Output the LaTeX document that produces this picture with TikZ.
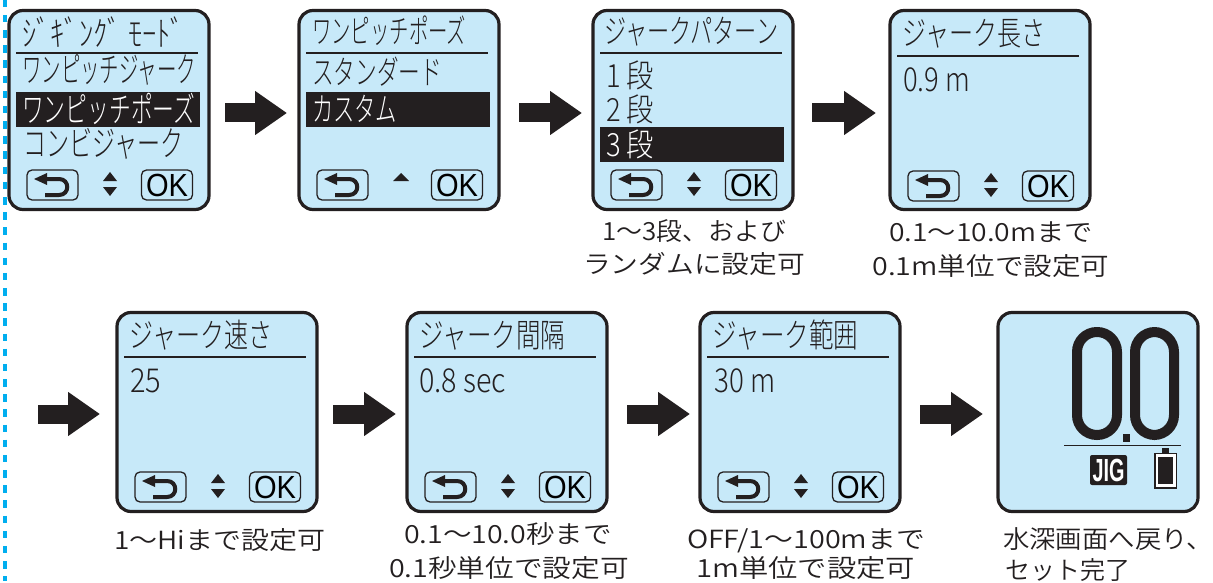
\documentclass[tikz,border=0pt]{standalone}
\usepackage{fontspec}
\usepackage{graphicx}
\usetikzlibrary{arrows.meta}
\setmainfont{Noto Sans CJK JP Light}
\newfontfamily\capf{Noto Sans CJK JP DemiLight}
\newfontfamily\latinf{Liberation Sans}
\definecolor{ink}{HTML}{231F20}
\definecolor{lcd}{HTML}{C7E9F9}
\definecolor{dashc}{HTML}{00AEEF}
\newsavebox\fitbox
\newcommand\fit[3]{\sbox\fitbox{\fontsize{#2}{#2}\selectfont #3}\pgfmathsetmacro\fitratio{#1/\the\wd\fitbox}\scalebox{\fitratio}[1]{\usebox\fitbox}}
\tikzset{
  x=1pt,y=-1pt,
  panelbox/.style={draw=ink,line width=3.2pt,fill=lcd,rounded corners=14pt,minimum width=200pt,minimum height=199pt,inner sep=0pt},
  txt/.style={anchor=base west,inner sep=0pt,text=ink},
  captxt/.style={anchor=base,inner sep=0pt,text=ink,font=\capf},
  btn/.style={draw=ink,line width=1.3pt,rounded corners=5pt,minimum width=51pt,minimum height=30pt,inner sep=0pt},
  rulel/.style={draw=ink,line width=1.4pt},
  flow/.style={draw=ink,fill=ink,line width=19pt,-{Triangle[length=32pt,width=42pt]}},
  hl/.style={fill=ink,draw=none,minimum width=184pt,minimum height=35pt,inner sep=0pt}
}
% #1 name, #2 x, #3 y, #4 rule y, #5 btn offset, #6 nav both
\newcommand\panelframe[6]{%
  \node[panelbox] (#1) at (#2+102,#3+101) {};
  \begin{scope}[shift={(#2,#3)}]
    \draw[rulel] (9,#4) -- (191,#4);
    \node[btn] (#1b) at (45.5,175+#5) {};
    \node[btn] (#1o) at (160,175+#5) {\latinf\fit{42}{32}{OK}};
    \begin{scope}[shift={(0,#5)}]
      \fill[ink] (27,169) -- (40,163) -- (40,175) -- cycle;
      \draw[ink,line width=4pt] (39,169) -- (52,169) .. controls (63,169) and (63,185) .. (52,185) -- (38,185);
      \ifnum#6=1
        \fill[ink] (96,171) -- (103,162) -- (110,171) -- cycle;
        \fill[ink] (96,177) -- (103,186) -- (110,177) -- cycle;
      \else
        \fill[ink] (96,171) -- (104,163) -- (112,171) -- cycle;
      \fi
    \end{scope}
  \end{scope}}
\begin{document}
\begin{tikzpicture}
\useasboundingbox (0,0) rectangle (1213,583);
\draw[dashc,line width=4pt,dash pattern=on 7.5pt off 7.67pt] (4.5,-0.2) -- (4.5,581);

\panelframe{pa}{7}{9}{44}{1}{1}
\panelframe{pb}{297}{9}{44}{1}{0}
\panelframe{pc}{591}{9}{44}{1}{1}
\panelframe{pd}{888}{9}{47}{2}{1}
\panelframe{pe}{115}{311}{46}{1}{1}
\panelframe{pf}{405}{311}{46}{1}{1}
\panelframe{pg}{698}{311}{46}{1}{1}

% panel 1
\node[hl] (pah) at (108,109.5) {};
\node[txt] (pa1) at (22,47) {\fit{163}{35}{ｼﾞｷﾞﾝｸﾞ ﾓｰﾄﾞ}};
\node[txt] (pa2) at (22,83) {\fit{174}{35}{ワンピッチジャーク}};
\node[txt,text=white] (pa3) at (22,123) {\fit{173}{35}{ワンピッチポーズ}};
\node[txt] (pa4) at (23,157) {\fit{160}{35}{コンビジャーク}};
% panel 2
\node[hl] (pbh) at (398,109.5) {};
\node[txt] (pb1) at (312,44) {\fit{154}{33}{ワンピッチポーズ}};
\node[txt] (pb2) at (312,85) {\fit{130}{33}{スタンダード}};
\node[txt,text=white] (pb3) at (312,122) {\fit{85}{33}{カスタム}};
% panel 3
\node[hl] (pch) at (692,144.5) {};
\node[txt] (pc1) at (604,44) {\fit{174}{33}{ジャークパターン}};
\node[txt] (pc2) at (606,88) {\fit{48}{32}{1 段}};
\node[txt] (pc3) at (606,122) {\fit{48}{32}{2 段}};
\node[txt,text=white] (pc4) at (606,157) {\fit{48}{32}{3 段}};
% panel 4
\node[txt] (pd1) at (902,46) {\fit{143}{33}{ジャーク長さ}};
\node[txt] (pd2) at (903,92) {\fit{67}{33}{0.9 m}};
% panel 5-7
\node[txt] (pe1) at (129,347) {\fit{143}{33}{ジャーク速さ}};
\node[txt] (pe2) at (130,392) {\fit{31}{33}{25}};
\node[txt] (pf1) at (419,347) {\fit{146}{33}{ジャーク間隔}};
\node[txt] (pf2) at (419,392) {\fit{87}{33}{0.8 sec}};
\node[txt] (pg1) at (712,347) {\fit{146}{33}{ジャーク範囲}};
\node[txt] (pg2) at (714,392) {\fit{61}{33}{30 m}};
% panel 8
\node[panelbox] (ph) at (1098,412) {};
\draw[ink,line width=10pt,rounded corners=19.9pt] (1077,332) rectangle (1117,435);
\draw[ink,line width=10pt,rounded corners=19.9pt] (1135,332) rectangle (1174,435);
\fill[ink] (1123,434) rectangle (1130,442);
\draw[rulel] (1064,445.5) -- (1181,445.5);
\node[fill=ink,rounded corners=2pt,minimum width=37pt,minimum height=30pt,inner sep=0pt] (phj) at (1108.5,470) {\latinf\bfseries\color{white}\fit{32}{32}{JIG}};
\fill[ink] (1162,448) rectangle (1169,453);
\draw[ink,line width=1.5pt,fill=white] (1155,453.5) rectangle (1176.5,488);
\fill[ink] (1158,457) rectangle (1173,484);

% captions
\node[captxt] (c1) at (694,240) {\fit{184}{25}{1〜3段、および}};
\node[captxt] (c2) at (694,273) {\fit{222}{25}{ランダムに設定可}};
\node[captxt] (c3) at (991,241) {\fit{204}{25}{0.1〜10.0mまで}};
\node[captxt] (c4) at (991,275) {\fit{237}{25}{0.1m単位で設定可}};
\node[captxt] (c5) at (219.5,549) {\fit{211}{25}{1〜Hiまで設定可}};
\node[captxt] (c6) at (508,543) {\fit{208}{25}{0.1〜10.0秒まで}};
\node[captxt] (c7) at (509,577) {\fit{240}{25}{0.1秒単位で設定可}};
\node[captxt] (c8) at (806,548) {\fit{238}{25}{OFF/1〜100mまで}};
\node[captxt] (c9) at (805.5,577) {\fit{219}{25}{1m単位で設定可}};
\node[txt,font=\capf] (c10) at (1003,548) {\fit{210}{25}{水深画面へ戻り、}};
\node[txt,font=\capf] (c11) at (1005,579) {\fit{125}{25}{セット完了}};

% flow arrows
\coordinate (a1s) at (225,113); \coordinate (a1e) at (287,113);
\coordinate (a2s) at (519,113); \coordinate (a2e) at (582,113);
\coordinate (a3s) at (812,113); \coordinate (a3e) at (876,113);
\coordinate (a4s) at (38,414); \coordinate (a4e) at (100,414);
\coordinate (a5s) at (333,414); \coordinate (a5e) at (396,414);
\coordinate (a6s) at (627,414); \coordinate (a6e) at (690,414);
\coordinate (a7s) at (920,414); \coordinate (a7e) at (983,414);
\foreach \i in {1,...,7} \draw[flow] (a\i s) -- (a\i e);
\end{tikzpicture}
\end{document}
